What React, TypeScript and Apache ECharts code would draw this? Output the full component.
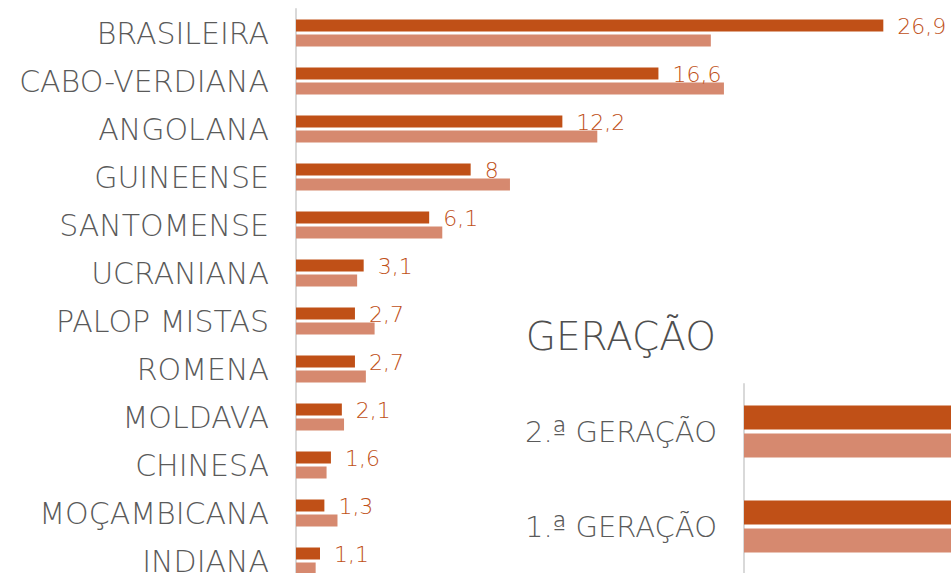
import React, { useEffect, useRef } from "react";
import * as echarts from "echarts";

const categories = [
  "BRASILEIRA",
  "CABO-VERDIANA",
  "ANGOLANA",
  "GUINEENSE",
  "SANTOMENSE",
  "UCRANIANA",
  "PALOP MISTAS",
  "ROMENA",
  "MOLDAVA",
  "CHINESA",
  "MOÇAMBICANA",
  "INDIANA",
];
const secondGeneration = [26.9, 16.6, 12.2, 8, 6.1, 3.1, 2.7, 2.7, 2.1, 1.6, 1.3, 1.1];
const firstGeneration = [19.0, 19.6, 13.8, 9.8, 6.7, 2.8, 3.6, 3.2, 2.2, 1.4, 1.9, 0.9];

const legendTitle = "GERAÇÃO";
const legendCategories = ["2.ª GERAÇÃO", "1.ª GERAÇÃO"];
const legendDark = [1, 1];
const legendLight = [1, 1];

const DARK = "#C05017";
const LIGHT = "#D6896F";
const TEXT = "#5a5a5a";
const FONT = "DejaVu Sans";

export default function App() {
  const ref = useRef<HTMLDivElement>(null);
  useEffect(() => {
    if (!ref.current) return;
    const chart = echarts.init(ref.current, null, { renderer: "svg" });
    chart.setOption({
      animation: false,
      backgroundColor: "#ffffff",
      textStyle: { fontFamily: FONT },
      grid: [
        { left: 296, right: 0, top: 9, height: 576, containLabel: false },
        { left: 744, right: 0, top: 384, height: 190, containLabel: false },
      ],
      xAxis: [
        {
          gridIndex: 0,
          type: "value",
          min: 0,
          max: 30,
          show: false,
        },
        {
          gridIndex: 1,
          type: "value",
          min: 0,
          max: 1,
          show: false,
        },
      ],
      yAxis: [
        {
          gridIndex: 0,
          type: "category",
          data: categories,
          inverse: true,
          axisLine: { show: true, lineStyle: { color: "#d9d9d9", width: 2 } },
          axisTick: { show: false },
          axisLabel: {
            margin: 27,
            color: TEXT,
            fontFamily: FONT,
            fontSize: 30,
            fontWeight: 300,
          },
        },
        {
          gridIndex: 1,
          type: "category",
          data: legendCategories,
          inverse: true,
          axisLine: { show: true, lineStyle: { color: "#d9d9d9", width: 2 } },
          axisTick: { show: false },
          axisLabel: {
            margin: 27,
            color: TEXT,
            fontFamily: FONT,
            fontSize: 29,
            fontWeight: 300,
          },
        },
      ],
      series: [
        {
          name: "2.ª geração",
          type: "bar",
          xAxisIndex: 0,
          yAxisIndex: 0,
          data: secondGeneration,
          barWidth: 12,
          barGap: "25%",
          itemStyle: { color: DARK },
          label: {
            show: true,
            position: "right",
            distance: 14,
            color: DARK,
            fontFamily: FONT,
            fontSize: 22,
            fontWeight: 300,
            offset: [0, 1],
            formatter: (p: any) => String(p.value).replace(".", ","),
          },
        },
        {
          name: "1.ª geração",
          type: "bar",
          xAxisIndex: 0,
          yAxisIndex: 0,
          data: firstGeneration,
          barWidth: 12,
          barGap: "25%",
          itemStyle: { color: LIGHT },
        },
        {
          name: "legend dark",
          type: "bar",
          xAxisIndex: 1,
          yAxisIndex: 1,
          data: legendDark,
          barWidth: 24,
          barGap: "17%",
          itemStyle: { color: DARK },
        },
        {
          name: "legend light",
          type: "bar",
          xAxisIndex: 1,
          yAxisIndex: 1,
          data: legendLight,
          barWidth: 24,
          barGap: "17%",
          itemStyle: { color: LIGHT },
        },
      ],
      graphic: [
        {
          type: "text",
          right: 951 - 716,
          top: 317,
          style: {
            text: legendTitle,
            fill: "#4f4f4f",
            font: `300 39px "${FONT}"`,
            textAlign: "right",
          },
        },
      ],
    });
    return () => chart.dispose();
  }, []);
  return (
    <div
      ref={ref}
      style={{ position: "fixed", left: 0, top: 0, width: 951, height: 600 }}
    />
  );
}
